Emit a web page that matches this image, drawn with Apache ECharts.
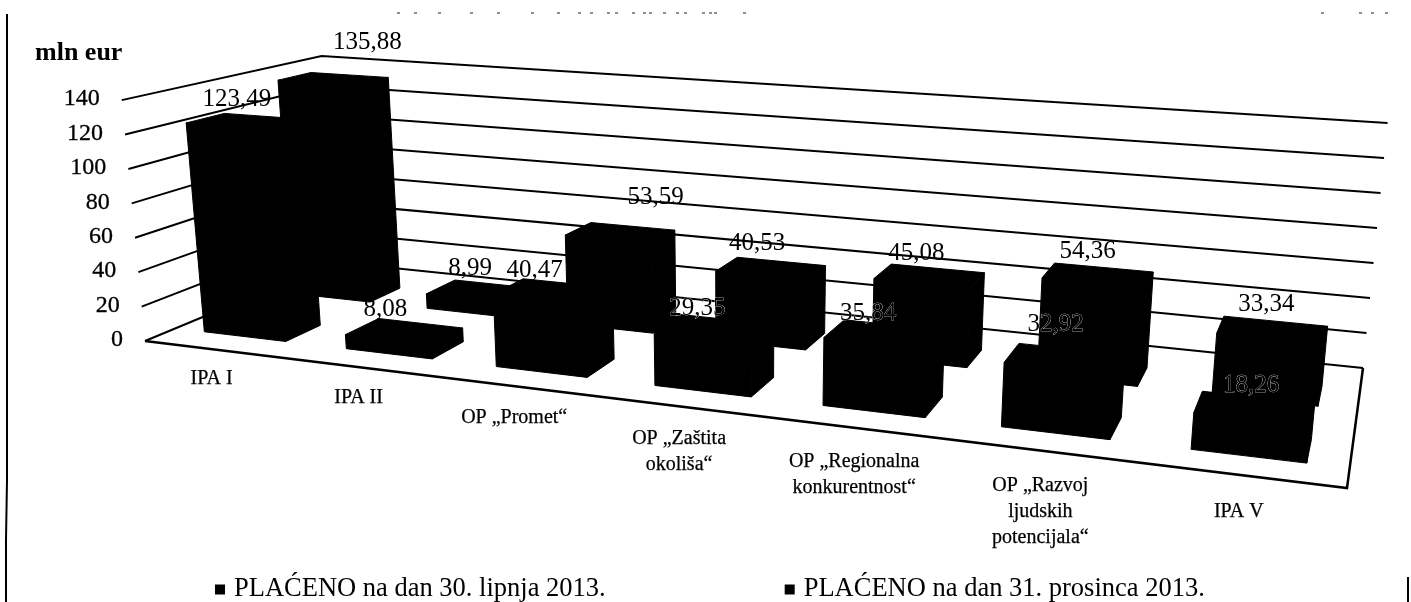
<!DOCTYPE html>
<html><head><meta charset="utf-8">
<style>html,body{margin:0;padding:0;background:#fff}#c{width:1411px;height:602px}</style>
<script src="https://cdn.jsdelivr.net/npm/echarts@6/dist/echarts.min.js"></script>
</head><body><div id="c"></div>
<script>
const categories = ['IPA I','IPA II','OP „Promet“','OP „Zaštita\nokoliša“','OP „Regionalna\nkonkurentnost“','OP „Razvoj\nljudskih\npotencijala“','IPA V'];
const paidJune = [123.49, 8.08, 40.47, 29.35, 35.84, 32.92, 18.26];
const paidDecember = [135.88, 8.99, 53.59, 40.53, 45.08, 54.36, 33.34];
const tickValues = [0,20,40,60,80,100,120,140];
const nameJune = 'PLAĆENO na dan 30. lipnja 2013.';
const nameDec = 'PLAĆENO na dan 31. prosinca 2013.';
const scanSpecksX = [397,414,438,470,497,531,557,578,590,607,615,632,643,649,663,676,684,702,709,714,743,1321,1359,1371,1385];
const nudgeJune = [[-28,-1],[-35,2],[-33,3],[-29,5],[-26,4],[-16,-9],[-7,4]];
const nudgeDec = [[18,-17],[-24,0],[23,-13],[-24,-2],[-21,1],[-16,-1],[-9,-1]];
const speckledJune = [false,false,false,true,true,true,true];
const speckledDec = [false,false,false,false,false,false,false];

const SERIF = '"Liberation Serif", serif';
const MAX = 140;
function homog(p){
  const [p0,p1,p2,p3]=p;
  const dx1=p1[0]-p2[0],dx2=p3[0]-p2[0],sx=p0[0]-p1[0]+p2[0]-p3[0];
  const dy1=p1[1]-p2[1],dy2=p3[1]-p2[1],sy=p0[1]-p1[1]+p2[1]-p3[1];
  const den=dx1*dy2-dx2*dy1;
  const g=(sx*dy2-dx2*sy)/den,h=(dx1*sy-sx*dy1)/den;
  const a=p1[0]-p0[0]+g*p1[0],b=p3[0]-p0[0]+h*p3[0],c=p0[0];
  const d=p1[1]-p0[1]+g*p1[1],e=p3[1]-p0[1]+h*p3[1],f=p0[1];
  return (u,v)=>{const q=g*u+h*v+1;return [(a*u+b*v+c)/q,(d*u+e*v+f)/q,q];};
}
const floorH = homog([[145,341],[1347,488],[1363,368],[335,262]]);
const VP=[744,6540], FULL=242;
function proj(u,v,w){
  const [x,y,q]=floorH(u,v);
  const dx=x-VP[0],dy=y-VP[1],len=Math.hypot(dx,dy);
  const h=FULL/q*w/MAX;
  return [x+dx/len*h,y+dy/len*h];
}
function toUW(api,params,cat,val){
  const c=api.coord([cat,val]),cs=params.coordSys;
  return [(c[0]-cs.x)/cs.width,(cs.y+cs.height-c[1])/cs.height*MAX];
}
const BAR=0.58;
function barItem(v0,v1,nudge,speckled){
  return function(params,api){
    const i=api.value(0),val=api.value(1);
    const [uc,w]=toUW(api,params,i,val);
    const du=api.size([1,0])[0]/params.coordSys.width*BAR/2;
    const u0=uc-du,u1=uc+du;
    const poly=pts=>({type:'polygon',shape:{points:pts},style:{fill:'#000',stroke:'#000',lineWidth:1}});
    const t=proj(uc,v1,w);
    const st={text:val.toFixed(2).replace('.',','),font:'25px '+SERIF,fill:'#000',align:'center',verticalAlign:'bottom'};
    if(speckled[i]){st.stroke='#fff';st.lineWidth=0.5;}
    return {type:'group',children:[
      poly([proj(u0,v0,0),proj(u1,v0,0),proj(u1,v0,w),proj(u0,v0,w)]),
      poly([proj(u1,v0,0),proj(u1,v1,0),proj(u1,v1,w),proj(u1,v0,w)]),
      poly([proj(u0,v0,w),proj(u1,v0,w),proj(u1,v1,w),proj(u0,v1,w)]),
      {type:'text',z2:5,x:t[0]+nudge[i][0],y:t[1]-3+nudge[i][1],style:st}
    ]};
  };
}
const option={
  animation:false,
  backgroundColor:'#fff',
  grid:{left:0,right:0,top:0,bottom:0},
  xAxis:{type:'category',data:categories,show:false},
  yAxis:{type:'value',min:0,max:MAX,interval:20,show:false},
  legend:{left:215,top:576,padding:0,itemWidth:10,itemHeight:10,itemGap:179,icon:'rect',
    textStyle:{fontFamily:SERIF,fontSize:26.5,color:'#000',padding:[0,0,0,4]},
    data:[nameJune,nameDec]},
  graphic:[
    {type:'text',left:35,top:40,style:{text:'mln eur',font:'bold 26px '+SERIF,fill:'#000'}},
    {type:'polyline',shape:{points:[[7,14],[7,480],[6,540],[6,602]]},style:{stroke:'#000',lineWidth:2,fill:null}},
    {type:'line',shape:{x1:1408,y1:577,x2:1408,y2:602},style:{stroke:'#000',lineWidth:2}}
  ].concat(scanSpecksX.map(x=>({type:'line',shape:{x1:x,y1:13,x2:x+3,y2:13},style:{stroke:'#222',lineWidth:1}}))),
  series:[
    {type:'custom',name:'grid',coordinateSystem:'cartesian2d',silent:true,z:1,clip:false,
     data:tickValues.map(v=>[0,v]),encode:{x:0,y:1},
     renderItem(params,api){
       const [,w]=toUW(api,params,0,api.value(1));
       const a=proj(0,0,w),b=proj(0,1,w),c=proj(1,1,w);
       return {type:'group',children:[
         {type:'polyline',shape:{points:[a,b,c]},style:{fill:null,stroke:'#000',lineWidth:2}},
         {type:'text',x:a[0]-22,y:a[1]-1,style:{text:String(api.value(1)),font:'24px '+SERIF,fill:'#000',stroke:'#000',lineWidth:0.3,align:'right',verticalAlign:'middle'}}
       ]};
     }},
    {type:'custom',name:'floor',coordinateSystem:'cartesian2d',silent:true,z:1,clip:false,
     data:[[0,0]],encode:{x:0,y:1},
     renderItem(){
       return {type:'polyline',shape:{points:[proj(0,0,0),proj(1,0,0),proj(1,1,0)]},style:{fill:null,stroke:'#000',lineWidth:2.5}};
     }},
    {type:'custom',name:nameDec,coordinateSystem:'cartesian2d',z:2,clip:false,itemStyle:{color:'#000'},
     data:paidDecember.map((v,i)=>[i,v]),encode:{x:0,y:1},renderItem:barItem(0.6,0.78,nudgeDec,speckledDec)},
    {type:'custom',name:nameJune,coordinateSystem:'cartesian2d',z:3,clip:false,itemStyle:{color:'#000'},
     data:paidJune.map((v,i)=>[i,v]),encode:{x:0,y:1},renderItem:barItem(0.14,0.32,nudgeJune,speckledJune)},
    {type:'custom',name:'labels',coordinateSystem:'cartesian2d',silent:true,z:4,clip:false,
     data:categories.map((c,i)=>[i,0]),encode:{x:0,y:1},
     renderItem(params,api){
       const i=api.value(0);
       const [uc]=toUW(api,params,i,0);
       const a=proj(uc,0,0),b=proj(uc,-0.16,0);
       return {type:'text',x:a[0]-4,y:b[1],style:{text:categories[i],font:'20px '+SERIF,lineHeight:26,fill:'#000',stroke:'#000',lineWidth:0.25,align:'center',verticalAlign:'top'}};
     }}
  ]
};
echarts.init(document.getElementById('c'),null,{renderer:'canvas'}).setOption(option);
</script></body></html>
